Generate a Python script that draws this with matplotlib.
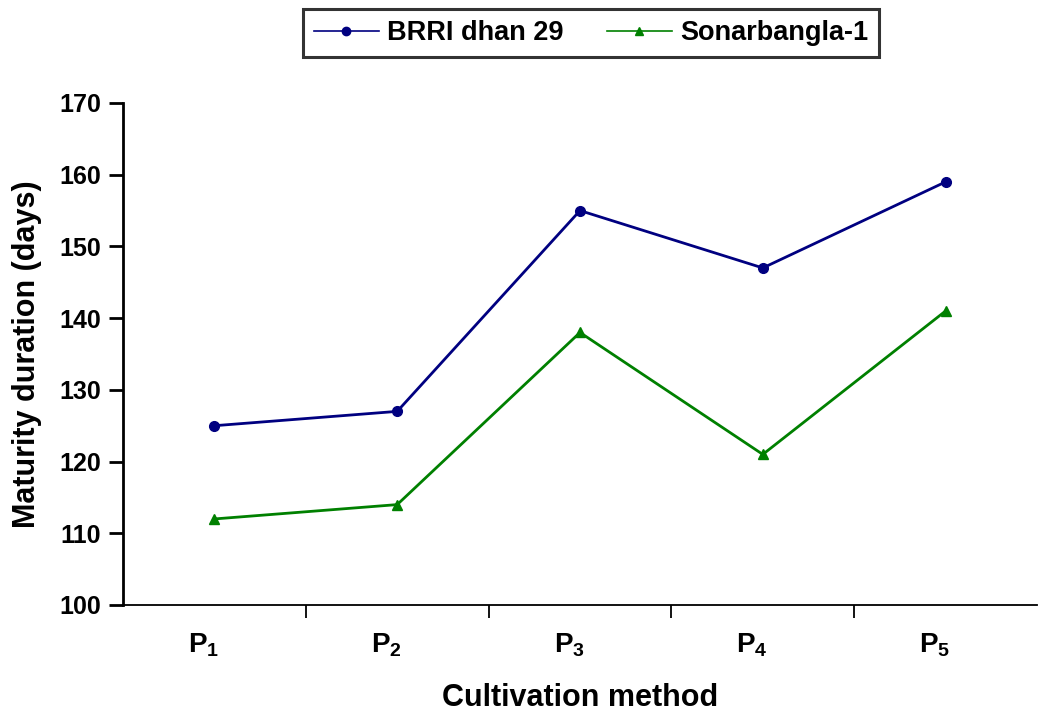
import matplotlib
matplotlib.use("Agg")
import matplotlib.pyplot as plt
from matplotlib.ticker import FixedLocator

plt.rcParams["mathtext.fontset"] = "custom"
plt.rcParams["mathtext.bf"] = "Liberation Sans:bold"
plt.rcParams["mathtext.rm"] = "Liberation Sans:bold"

categories = ["1", "2", "3", "4", "5"]
brri = [125, 127, 155, 147, 159]
sonar = [112, 114, 138, 121, 141]
yticks = [100, 110, 120, 130, 140, 150, 160, 170]

fig = plt.figure(figsize=(10.38, 7.14), dpi=100)
ax = fig.add_axes([123/1038, 1 - 605/714, (1037 - 123)/1038, (605 - 103)/714])

x = list(range(1, len(categories) + 1))
ax.plot(x, brri, color="#000080", marker="o", markersize=7, linewidth=2, label="BRRI dhan 29")
ax.plot(x, sonar, color="#008000", marker="^", markersize=7, linewidth=2, label="Sonarbangla-1")

ax.set_xlim(0.5, len(categories) + 0.5)
ax.set_ylim(100, 170)
ax.set_yticks(yticks)
ax.set_yticklabels([str(v) for v in yticks], fontsize=18, fontweight="bold", family="Liberation Sans")
ax.tick_params(axis="y", direction="out", length=10, width=2, pad=6)

ax.xaxis.set_major_locator(FixedLocator([i + 0.5 for i in x[:-1]]))
ax.set_xticklabels([])
ax.xaxis.set_minor_locator(FixedLocator([i - 0.06 for i in x]))
ax.set_xticklabels([r"$\mathbf{P}_{\mathbf{%s}}$" % c for c in categories], minor=True, fontsize=20)
ax.tick_params(axis="x", which="minor", length=0, pad=19)
ax.tick_params(axis="x", which="major", direction="out", length=9, width=1.3)

for s in ["top", "right"]:
    ax.spines[s].set_visible(False)
ax.spines["left"].set_linewidth(2)
ax.spines["bottom"].set_linewidth(1.3)

ax.set_ylabel("Maturity duration (days)", fontsize=22, fontweight="bold", family="Liberation Sans")
ax.set_xlabel("Cultivation method", fontsize=22, fontweight="bold", family="Liberation Sans")
ax.yaxis.set_label_coords((42 - 123) / 914, 0.5)
ax.xaxis.set_label_coords(0.5, (605 - 683) / 502)

leg = fig.legend(loc="center", bbox_to_anchor=(591/1038, 1 - 33/714), ncol=2, frameon=True,
                 prop={"family": "Liberation Sans", "weight": "bold", "size": 19.5},
                 fancybox=False, edgecolor="black", handlelength=2.4, columnspacing=1.6,
                 borderpad=0.4, handletextpad=0.3, borderaxespad=0)
leg.get_frame().set_linewidth(2.2)
for ln in leg.get_lines():
    ln.set_linewidth(1.2)
    ln.set_markersize(6)

fig.savefig("out.png", dpi=100)
